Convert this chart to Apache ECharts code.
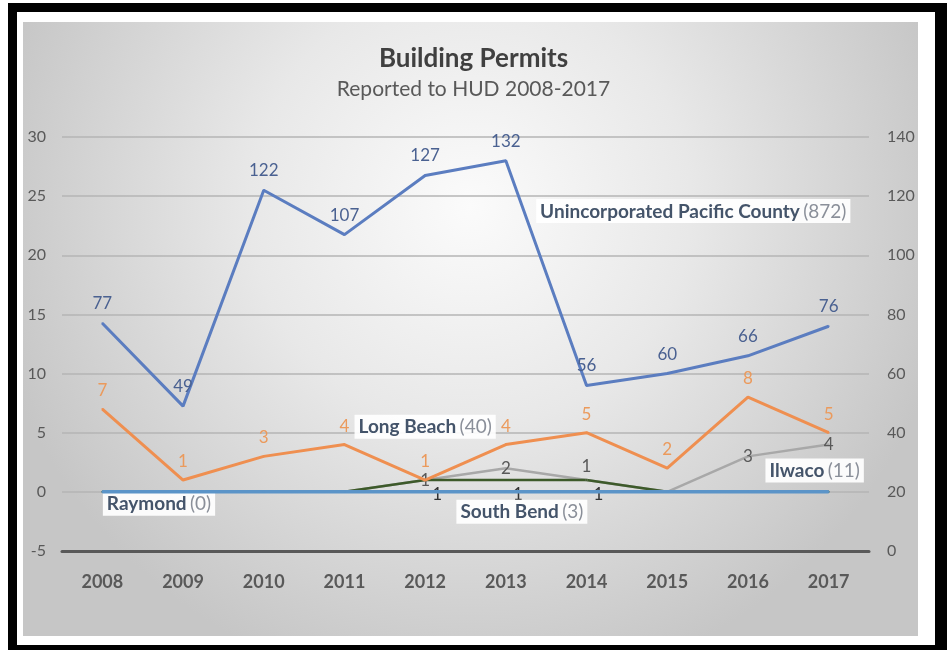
<!DOCTYPE html>
<html>
<head>
<meta charset="utf-8">
<title>Building Permits</title>
<script src="https://cdn.jsdelivr.net/npm/echarts@6/dist/echarts.min.js"></script>
<style>
  html, body { margin: 0; padding: 0; background: #ffffff; }
  #chart { width: 947px; height: 650px; }
</style>
</head>
<body>
<div id="chart"></div>
<script>
// Permits per year, 2008-2017
const years = ['2008', '2009', '2010', '2011', '2012', '2013', '2014', '2015', '2016', '2017'];
const pacificCounty = [77, 49, 122, 107, 127, 132, 56, 60, 66, 76];   // right axis
const longBeach     = [7, 1, 3, 4, 1, 4, 5, 2, 8, 5];
const ilwaco        = [0, 0, 0, 0, 1, 2, 1, 0, 3, 4];
const southBend     = [0, 0, 0, 0, 1, 1, 1, 0, 0, 0];
const raymond       = [0, 0, 0, 0, 0, 0, 0, 0, 0, 0];

// Axis ranges
const leftAxisRange  = { min: -5, max: 30, interval: 5 };
const rightAxisRange = { min: 0, max: 140, interval: 20 };

// Where each Ilwaco label sits relative to its point
const ilwacoLabelPos = ['inside', 'inside', 'inside', 'inside', 'inside', 'inside', 'top', 'inside', 'inside', 'inside'];

const total = arr => arr.reduce((a, b) => a + b, 0);
const FONT = 'Lato, "Noto Sans", sans-serif';
const NAME_COLOR = '#44546a';

function nameTag(name, values, coord, position, offset) {
  return {
    coord: coord,
    symbol: 'circle',
    symbolSize: 1,
    itemStyle: { color: 'rgba(0,0,0,0)' },
    label: {
      show: true,
      position: position,
      distance: 0,
      offset: offset,
      formatter: '{n|' + name + '} {v|(' + total(values) + ')}',
      backgroundColor: 'rgba(255,255,255,0.92)',
      padding: [3, 4, 2, 4],
      rich: {
        n: { fontFamily: FONT, fontSize: 19, fontWeight: 'bold', color: NAME_COLOR },
        v: { fontFamily: FONT, fontSize: 19, color: '#8a8f99' }
      }
    }
  };
}

const chart = echarts.init(document.getElementById('chart'), null, { renderer: 'canvas' });

chart.setOption({
  backgroundColor: '#ffffff',
  animation: false,
  graphic: {
    elements: [
      { type: 'rect', z: -100, silent: true, shape: { x: 8, y: 3, width: 939, height: 647 }, style: { fill: '#000000' } },
      { type: 'rect', z: -99, silent: true, shape: { x: 17, y: 12, width: 918, height: 633 }, style: { fill: '#ffffff' } },
      {
        type: 'rect', z: -98, silent: true,
        shape: { x: 23, y: 22, width: 895, height: 614 },
        style: {
          fill: new echarts.graphic.RadialGradient(0.5, 0.3, 0.8, [
            { offset: 0, color: '#fbfbfb' },
            { offset: 0.45, color: '#e8e8e8' },
            { offset: 1, color: '#c6c6c6' }
          ])
        }
      }
    ]
  },
  title: {
    text: 'Building Permits',
    subtext: 'Reported to HUD 2008-2017',
    left: 'center',
    top: 41,
    itemGap: 7,
    textStyle: { fontFamily: FONT, fontSize: 26, fontWeight: 'bold', color: '#404040' },
    subtextStyle: { fontFamily: FONT, fontSize: 21, color: '#595959' }
  },
  grid: { left: 62, right: 78, top: 137, bottom: 99, containLabel: false },
  xAxis: {
    type: 'category',
    data: years,
    boundaryGap: true,
    axisLine: { onZero: false, lineStyle: { color: '#595959', width: 3 } },
    axisTick: { show: false },
    axisLabel: { fontFamily: FONT, fontSize: 18, fontWeight: 'bold', color: '#595959', margin: 22 },
    splitLine: { show: false }
  },
  yAxis: [
    {
      type: 'value',
      min: leftAxisRange.min, max: leftAxisRange.max, interval: leftAxisRange.interval,
      axisLine: { show: false },
      axisTick: { show: false },
      axisLabel: { fontFamily: FONT, fontSize: 16, color: '#595959', margin: 16 },
      splitLine: { lineStyle: { color: '#b4b4b4', width: 1.5 } }
    },
    {
      type: 'value',
      min: rightAxisRange.min, max: rightAxisRange.max, interval: rightAxisRange.interval,
      axisLine: { show: false },
      axisTick: { show: false },
      axisLabel: { fontFamily: FONT, fontSize: 16, color: '#595959', margin: 18 },
      splitLine: { show: false }
    }
  ],
  series: [
    {
      name: 'Unincorporated Pacific County',
      type: 'line',
      yAxisIndex: 1,
      data: pacificCounty,
      symbol: 'circle',
      symbolSize: 2,
      lineStyle: { color: '#5b7dc0', width: 3 },
      itemStyle: { color: '#5b7dc0' },
      label: { show: true, position: 'top', distance: 10, fontFamily: FONT, fontSize: 17, color: '#4a6191' },
      markPoint: { data: [nameTag('Unincorporated Pacific County', pacificCounty, ['2015', 115], 'inside', [26, 0])] },
      z: 5
    },
    {
      name: 'Long Beach',
      type: 'line',
      data: longBeach,
      symbol: 'circle',
      symbolSize: 2,
      lineStyle: { color: '#ef8f50', width: 3 },
      itemStyle: { color: '#ef8f50' },
      label: { show: true, position: 'top', distance: 9, fontFamily: FONT, fontSize: 17, color: '#eb9a5c' },
      markPoint: { data: [nameTag('Long Beach', longBeach, ['2012', 5.5], 'inside', [0, 0])] },
      z: 4
    },
    {
      name: 'Ilwaco',
      type: 'line',
      data: ilwaco.map((v, i) => ({
        value: v,
        label: { show: v !== 0, position: ilwacoLabelPos[i], distance: 4 }
      })),
      symbol: 'circle',
      symbolSize: 2,
      lineStyle: { color: '#a8a8a8', width: 2.5 },
      itemStyle: { color: '#a8a8a8' },
      label: { fontFamily: FONT, fontSize: 17, color: '#595959' },
      markPoint: { data: [nameTag('Ilwaco', ilwaco, ['2017', 1.8], 'inside', [-14, 0])] },
      z: 3
    },
    {
      name: 'South Bend',
      type: 'line',
      data: southBend.map(v => ({ value: v, label: { show: v !== 0 } })),
      symbol: 'circle',
      symbolSize: 2,
      lineStyle: { color: '#3d5a2a', width: 2.5 },
      itemStyle: { color: '#3d5a2a' },
      label: { position: 'bottom', distance: 2, offset: [12, 3], fontFamily: FONT, fontSize: 17, color: '#333333' },
      markPoint: { data: [nameTag('South Bend', southBend, ['2013', 0], 'inside', [16, 20])] },
      z: 3
    },
    {
      name: 'Raymond',
      type: 'line',
      data: raymond,
      symbol: 'circle',
      symbolSize: 2,
      lineStyle: { color: '#5b94c8', width: 3.5 },
      itemStyle: { color: '#5b94c8' },
      label: { show: false },
      markPoint: { data: [nameTag('Raymond', raymond, ['2008', 0], 'right', [0, 12])] },
      z: 6
    }
  ]
});
</script>
</body>
</html>
